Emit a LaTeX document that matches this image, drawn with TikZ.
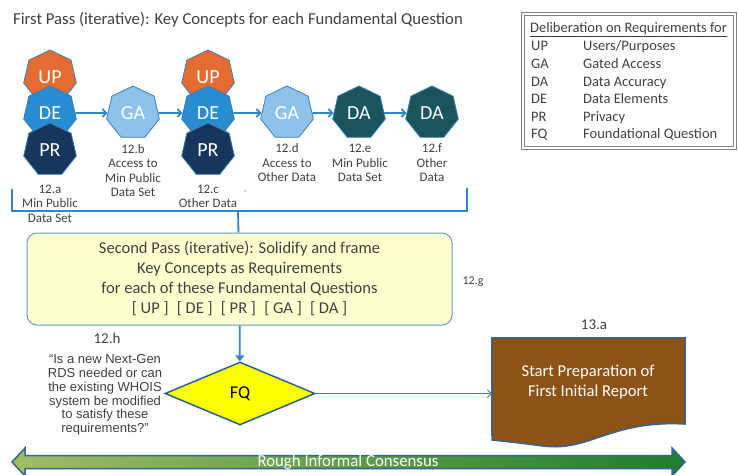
\documentclass[tikz,border=0pt]{standalone}
\usepackage{fontspec}
\setmainfont{Carlito}
\newfontfamily\arialfont{Liberation Sans}
\usetikzlibrary{shapes.geometric,arrows.meta}
\definecolor{cUP}{RGB}{228,108,50}
\definecolor{cDE}{RGB}{40,140,210}
\definecolor{cPR}{RGB}{22,54,92}
\definecolor{cGA}{RGB}{141,195,235}
\definecolor{cDA}{RGB}{26,84,92}
\definecolor{hepline}{RGB}{60,125,180}
\definecolor{arblue}{RGB}{46,134,200}
\definecolor{boxfill}{RGB}{255,255,208}
\definecolor{boxline}{RGB}{95,155,205}
\definecolor{fqfill}{RGB}{255,255,0}
\definecolor{fqline}{RGB}{40,100,140}
\definecolor{docfill}{RGB}{140,82,22}
\definecolor{docline}{RGB}{50,100,150}
\definecolor{greenA}{RGB}{160,190,100}
\definecolor{greenB}{RGB}{30,125,45}
\definecolor{txt}{RGB}{64,64,64}
\begin{document}
\begin{tikzpicture}[x=1pt,y=-1pt,
  h/.style = {regular polygon, regular polygon sides=7, minimum size=54pt, inner sep=0pt, draw=hepline, line width=0.8pt, text=white, font=\fontsize{20}{20}\selectfont},
  lbl/.style = {align=center, text=txt, font=\fontsize{13}{14.5}\selectfont},
  ar/.style = {draw=arblue, line width=1.8pt, -{Straight Barb[length=4pt,width=8pt]}},
  leg/.style = {anchor=base west, inner sep=0pt, text=txt, font=\fontsize{14.5}{14.5}\selectfont}]
\useasboundingbox (0,0) rectangle (738,474);
\node[anchor=west, inner sep=0pt, text=txt, font=\fontsize{16.7}{16.7}\selectfont] at (13,20) (title) {First Pass (iterative): Key Concepts for each Fundamental Question};
\node[h, fill=cUP] at (50,77) (up1) {UP};
\node[h, fill=cDE] at (50,113) (de1) {DE};
\node[h, fill=cPR] at (50,150) (pr1) {PR};
\node[h, fill=cGA] at (133,113) (ga1) {GA};
\node[h, fill=cUP] at (208,77) (up2) {UP};
\node[h, fill=cDE] at (208,113) (de2) {DE};
\node[h, fill=cPR] at (208,150) (pr2) {PR};
\node[h, fill=cGA] at (287,113) (ga2) {GA};
\node[h, fill=cDA] at (359,113) (da1) {DA};
\node[h, fill=cDA] at (432,113) (da2) {DA};
\draw[ar] (de1) -- (ga1);
\draw[ar] (ga1) -- (de2);
\draw[ar] (de2) -- (ga2);
\draw[ar] (ga2) -- (da1);
\draw[ar] (da1) -- (da2);
\node[lbl] at (50,203.5) (la) {12.a\\Min Public\\Data Set};
\node[lbl] at (133,170.5) (lb) {12.b\\Access to\\Min Public\\Data Set};
\node[lbl] at (208,196.5) (lc) {12.c\\Other Data};
\node[text=txt, font=\fontsize{8}{8}\selectfont] at (245,192) (tick) {,};
\node[lbl] at (287,163) (ld) {12.d\\Access to\\Other Data};
\node[lbl] at (360,163) (le) {12.e\\Min Public\\Data Set};
\node[lbl] at (432,163) (lf) {12.f\\Other\\Data};
\draw[arblue, line width=1.8pt] (12,189) |- (467,211) -- (467,188);
\coordinate (br) at (238,211);
\node[draw=boxline, line width=1pt, fill=boxfill, rounded corners=10pt, minimum width=425pt, minimum height=92pt, align=center, text=txt, font=\fontsize{16.5}{20}\selectfont] at (239.5,279) (sp) {Second Pass (iterative): Solidify and frame\\Key Concepts as Requirements\\for each of these Fundamental Questions\\{[} UP {]}\enspace{[} DE {]}\enspace{[} PR {]}\enspace{[} GA {]}\enspace{[} DA {]}};
\draw[arblue, line width=1.8pt] (br) -- (sp);
\node[text=txt, font=\fontsize{12}{12}\selectfont] at (473,282) (g) {12.g};
\node[text=txt, font=\fontsize{15}{15}\selectfont] at (107,338) (hh) {12.h};
\node[align=center, text=txt, font=\arialfont\fontsize{13}{13.8}\selectfont] at (105,395) (q) {“Is a new Next-Gen\\RDS needed or can\\the existing WHOIS\\system be modified\\to satisfy these\\requirements?”};
\node[diamond, draw=fqline, line width=1.5pt, fill=fqfill, minimum width=150pt, minimum height=63pt, inner sep=0pt, font=\fontsize{18}{18}\selectfont] at (240,393.5) (fq) {FQ};
\draw[arblue, line width=1.8pt, -{Triangle[length=6pt,width=9pt]}] (sp) -- (fq);
\node[minimum width=193pt, minimum height=87pt, inner sep=0pt] at (588.5,381.5) (doc) {};
\fill[docfill] (doc.north west) -- (doc.north east) -- (685,424) .. controls (610,420) and (590,452) .. (543,446) .. controls (520,443) .. (492,440) -- cycle;
\draw[docline, line width=1.5pt] (doc.north west) -- (doc.north east) -- (685,424) .. controls (610,420) and (590,452) .. (543,446) .. controls (520,443) .. (492,440) -- cycle;
\node[align=center, text=white, font=\fontsize{16.6}{20.5}\selectfont] at (588,382) (dt) {Start Preparation of\\First Initial Report};
\node[text=txt, font=\fontsize{15}{15}\selectfont] at (594,325) (ta) {13.a};
\draw[arblue, line width=0.8pt, -{Straight Barb[length=4pt,width=8pt]}] (fq.east) -- (fq.east -| doc.west);
\shadedraw[left color=greenA, right color=greenB, draw=docline, line width=1.5pt] (12,462) -- (25,448) -- (25,455.5) -- (672,455.5) -- (672,448) -- (685,462) -- (672,476) -- (672,468.5) -- (25,468.5) -- (25,476) -- cycle;
\node[text=white, font=\fontsize{16.8}{16.8}\selectfont] at (348,462) (rc) {Rough Informal Consensus};
\draw[gray, line width=1pt, double=white, double distance=2pt] (523,14) rectangle (735,148);
\node[leg] at (530,32) (lh) {\underline{Deliberation on Requirements for}};
\node[leg] at (531,50) (k1) {UP};
\node[leg] at (583,50) (v1) {Users/Purposes};
\node[leg] at (531,68) (k2) {GA};
\node[leg] at (583,68) (v2) {Gated Access};
\node[leg] at (531,86) (k3) {DA};
\node[leg] at (583,86) (v3) {Data Accuracy};
\node[leg] at (531,103) (k4) {DE};
\node[leg] at (583,103) (v4) {Data Elements};
\node[leg] at (531,121) (k5) {PR};
\node[leg] at (583,121) (v5) {Privacy};
\node[leg] at (531,138) (k6) {FQ};
\node[leg] at (583,138) (v6) {Foundational Question};
\end{tikzpicture}
\end{document}
